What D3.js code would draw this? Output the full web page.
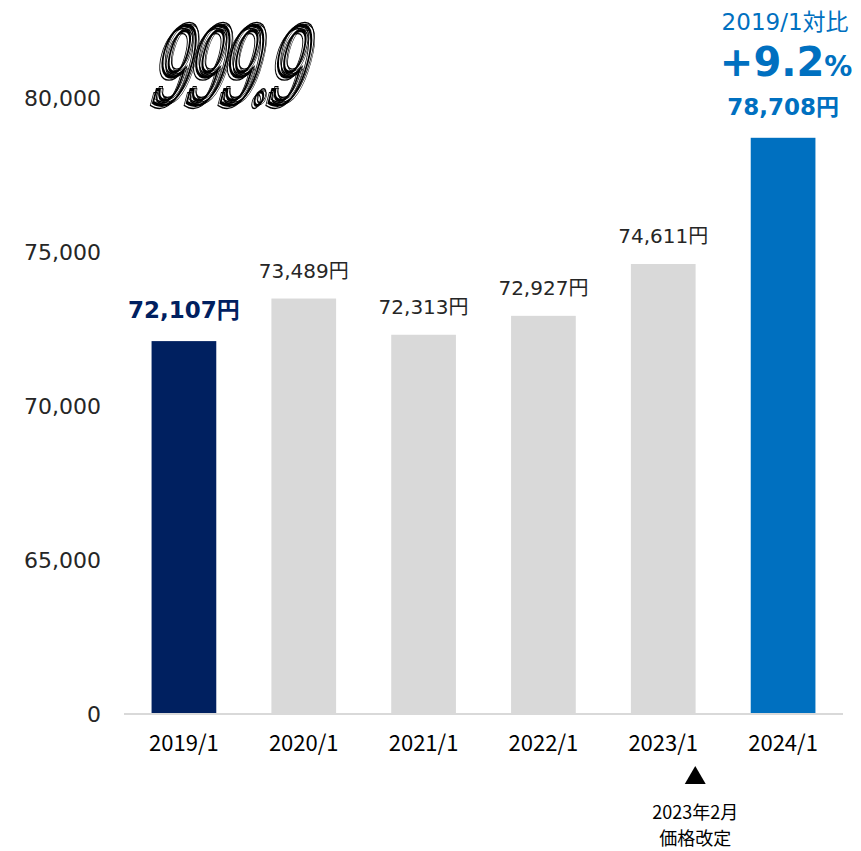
<!DOCTYPE html>
<html>
<head>
<meta charset="utf-8">
<script src="https://cdn.jsdelivr.net/npm/d3@7"></script>
<style>
  body { margin: 0; background: #fff; }
  svg { display: block; }
</style>
</head>
<body>
<svg id="chart" width="861" height="851"></svg>
<script>
// Data
const periods = ['2019/1', '2020/1', '2021/1', '2022/1', '2023/1', '2024/1'];
const prices = [72107, 73489, 72313, 72927, 74611, 78708];
const tickValues = [60000, 65000, 70000, 75000, 80000];
const tickLabels = ['0', '65,000', '70,000', '75,000', '80,000'];
const compareLabel = '2019/1対比';
const changePct = '+9.2';
const noteLines = ['2023年2月', '価格改定'];
const notePeriod = '2023/1';

const svg = d3.select('#chart');
const fontLatin = 'Verdana, "DejaVu Sans", "Noto Sans CJK JP", sans-serif';
const fontJp = '"Noto Sans CJK JP", sans-serif';

const x = d3.scaleBand()
  .domain(periods)
  .range([124, 843])
  .paddingInner(0.46)
  .paddingOuter(0.23);

// broken axis: the bottom ("0") sits where 60,000 would be
const y = d3.scaleLinear()
  .domain([60000, 80000])
  .range([714, 98]);

const barColor = (d, i) => i === 0 ? '#002060' : (i === periods.length - 1 ? '#0070c0' : '#d9d9d9');
const labelColor = (d, i) => i === 0 ? '#002060' : (i === periods.length - 1 ? '#0070c0' : '#262626');
const isKey = i => i === 0 || i === prices.length - 1;

// Bars
svg.append('g')
  .selectAll('rect')
  .data(prices)
  .enter()
  .append('rect')
  .attr('x', (d, i) => x(periods[i]))
  .attr('y', d => y(d))
  .attr('width', x.bandwidth())
  .attr('height', d => y.range()[0] - y(d))
  .attr('fill', barColor);

// Base line
svg.append('line')
  .attr('x1', x.range()[0]).attr('x2', x.range()[1])
  .attr('y1', y.range()[0]).attr('y2', y.range()[0])
  .attr('stroke', '#d9d9d9').attr('stroke-width', 2);

// Y axis labels
const yAxis = d3.axisLeft(y)
  .tickValues(tickValues)
  .tickFormat((d, i) => tickLabels[i])
  .tickSize(0)
  .tickPadding(0);
svg.append('g')
  .attr('transform', 'translate(101,0)')
  .call(yAxis)
  .call(g => g.select('.domain').remove())
  .call(g => g.selectAll('text')
    .attr('dy', '0.35em')
    .style('font-family', fontLatin)
    .style('font-size', '22px')
    .attr('fill', '#262626'));

// X axis labels
const xAxis = d3.axisBottom(x).tickSize(0).tickPadding(0);
svg.append('g')
  .attr('transform', 'translate(0,' + (y.range()[0] + 21) + ')')
  .call(xAxis)
  .call(g => g.select('.domain').remove())
  .call(g => g.selectAll('text')
    .attr('dy', '0.71em')
    .style('font-family', fontJp)
    .style('font-size', '22px')
    .attr('fill', '#000'));

// Value labels
svg.append('g')
  .selectAll('text')
  .data(prices)
  .enter()
  .append('text')
  .attr('x', (d, i) => x(periods[i]) + x.bandwidth() / 2)
  .attr('y', (d, i) => y(d) - (isKey(i) ? 23 : 21))
  .attr('text-anchor', 'middle')
  .style('font-family', fontLatin)
  .style('font-size', (d, i) => isKey(i) ? '23px' : '20px')
  .style('font-weight', (d, i) => isKey(i) ? 'bold' : 'normal')
  .attr('fill', labelColor)
  .text(d => d3.format(',')(d) + '円');

// Comparison annotation above last bar
const lastX = x(periods[periods.length - 1]) + x.bandwidth() / 2;
svg.append('text')
  .attr('x', lastX + 2).attr('y', 30)
  .attr('text-anchor', 'middle')
  .style('font-family', fontLatin)
  .style('font-size', '23px')
  .attr('fill', '#0070c0')
  .text(compareLabel);
const pct = svg.append('text')
  .attr('x', lastX + 3).attr('y', 76)
  .attr('text-anchor', 'middle')
  .style('font-family', fontLatin)
  .style('font-weight', 'bold')
  .attr('fill', '#0070c0');
pct.append('tspan').style('font-size', '40px').text(changePct);
pct.append('tspan').style('font-size', '28px').text('%');

// Price revision note
const noteX = x(notePeriod) + x.bandwidth() / 2 + 32;
svg.append('path')
  .attr('d', d3.symbol().type(d3.symbolTriangle).size(190))
  .attr('transform', 'translate(' + noteX + ',778)')
  .attr('fill', '#000');
svg.append('g')
  .selectAll('text')
  .data(noteLines)
  .enter()
  .append('text')
  .attr('x', noteX)
  .attr('y', (d, i) => 819 + i * 26)
  .attr('text-anchor', 'middle')
  .style('font-family', fontJp)
  .style('font-size', '18px')
  .attr('fill', '#000')
  .text(d => d);

// Logo
const logo = svg.append('g').attr('transform', 'translate(128,104) skewX(-15) scale(0.62,1.08)');
[[0, 0, 3], [3, -3, 1.3], [-3, 3, 1.3], [5, -1, 0.8]].forEach(([dx, dy, w]) => {
  logo.append('text')
    .attr('x', 30 + dx).attr('y', dy)
    .style('font-family', '"DejaVu Serif", serif')
    .style('font-size', '98px')
    .style('letter-spacing', '-8px')
    .attr('fill', 'none')
    .attr('stroke', '#000')
    .attr('stroke-width', w)
    .text('999.9');
});
</script>
</body>
</html>
